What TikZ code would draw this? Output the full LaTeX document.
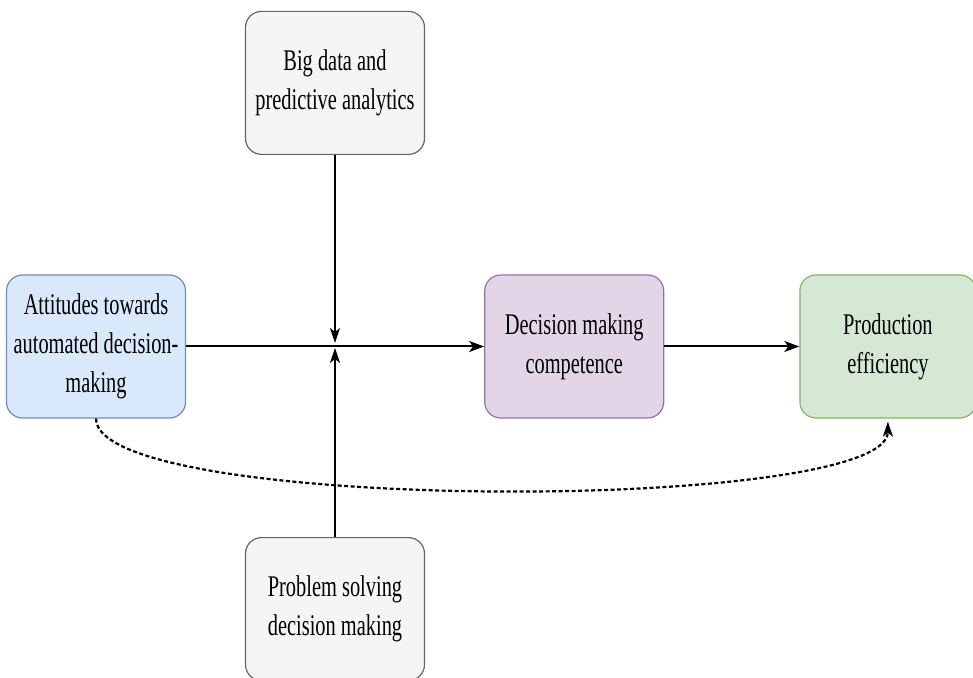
\documentclass[tikz,border=0pt]{standalone}
\usepackage{fontspec}
\setmainfont[FakeStretch=0.68]{Liberation Serif}
\usetikzlibrary{arrows.meta,positioning}
\definecolor{attfill}{HTML}{DAE8FC}
\definecolor{attline}{HTML}{6C8EBF}
\definecolor{dmcfill}{HTML}{E1D5E7}
\definecolor{dmcline}{HTML}{9673A6}
\definecolor{efffill}{HTML}{D5E8D4}
\definecolor{effline}{HTML}{82B366}
\definecolor{modfill}{HTML}{F5F5F5}
\definecolor{modline}{HTML}{666666}
\tikzset{
  factor/.style={rectangle,rounded corners=16pt,draw,line width=1.2pt,minimum width=179pt,minimum height=143pt,inner sep=0pt,align=center,font=\fontsize{30}{39}\selectfont},
  flow/.style={-{Stealth[length=15pt,width=11pt,inset=4pt]},line width=2pt},
  modarrow/.style={-{Stealth[length=15pt,width=10pt,inset=4pt]},line width=1.4pt},
  effect/.style={-{Stealth[length=15pt,width=10pt,inset=4pt]},line width=2.2pt,dash pattern=on 4pt off 2.5pt}
}

\begin{document}
\begin{tikzpicture}[x=1pt,y=1pt]
  \useasboundingbox (0,0) rectangle (973,677);
  \clip (0,0) rectangle (973,677);
  % factors on the main path
  \node[factor,fill=attfill,draw=attline] (att) at (96,330.5) {Attitudes towards\\automated decision-\\making};
  \node[factor,fill=dmcfill,draw=dmcline,right=298pt of att] (dmc) {Decision making\\competence};
  \node[factor,fill=efffill,draw=effline,minimum width=176pt,right=135pt of dmc] (eff) {Production\\efficiency};
  % moderators
  \coordinate (mod) at (335,331);
  \node[factor,fill=modfill,draw=modline,above=191pt of mod] (big) {Big data and\\predictive analytics};
  \node[factor,fill=modfill,draw=modline,below=191pt of mod] (prob) {Problem solving\\decision making};
  \draw[flow] (att) -- (dmc);
  \draw[flow] (dmc) -- (eff);
  \draw[modarrow] (big) -- ([yshift=3pt]mod);
  \draw[modarrow] (prob) -- ([yshift=-2pt]mod);
  \draw[effect,shorten >=3pt] (att.south) .. controls +(0,-95) and +(0,-95) .. (eff.south);
\end{tikzpicture}
\end{document}
